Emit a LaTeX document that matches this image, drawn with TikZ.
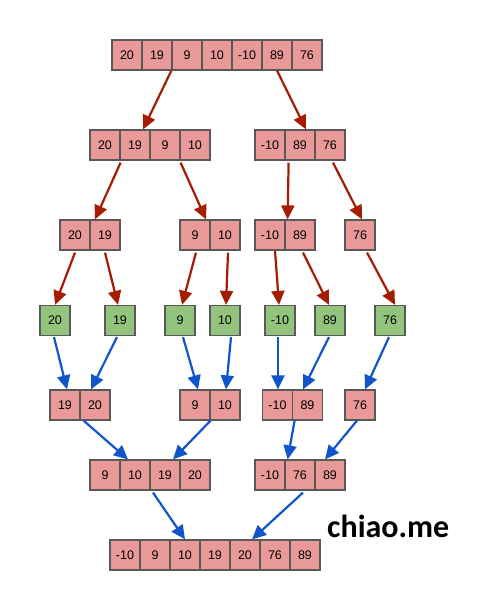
\documentclass[tikz,border=0pt]{standalone}
\usepackage{fontspec}
\setmainfont{Liberation Sans}
\newfontfamily\brandfont{Carlito}
\usetikzlibrary{arrows.meta,calc}
\definecolor{cellpink}{HTML}{EA9999}
\definecolor{cellgreen}{HTML}{93C47D}
\definecolor{cellline}{HTML}{595959}
\definecolor{splitred}{HTML}{A61C00}
\definecolor{mergeblue}{HTML}{1155CC}
\tikzset{
  cell/.style={draw=cellline, line width=1.2pt, fill=cellpink, minimum width=30pt, minimum height=30pt, inner sep=0pt, font=\fontsize{12.5}{14}\selectfont},
  leaf/.style={cell, fill=cellgreen},
  splitarrow/.style={draw=splitred, line width=2.2pt, -{Triangle[length=14pt,width=13pt]}},
  mergearrow/.style={draw=mergeblue, line width=2.2pt, -{Triangle[length=14pt,width=13pt]}},
}
\begin{document}
\begin{tikzpicture}[x=1pt,y=-1pt]
\useasboundingbox (0,0) rectangle (480,590);
% row 1
\foreach \n/\x/\v in {a/127/20,b/157/19,c/187/9,d/217/10,e/247/-10,f/277/89,g/307/76}
  \node[cell] (r1\n) at (\x,55) {\v};
% row 2
\foreach \n/\x/\v in {a/105/20,b/135/19,c/165/9,d/195/10,e/270/-10,f/300/89,g/330/76}
  \node[cell] (r2\n) at (\x,145) {\v};
% row 3
\foreach \n/\x/\v in {a/75/20,b/105/19,c/195/9,d/225/10,e/270/-10,f/300/89,g/360/76}
  \node[cell] (r3\n) at (\x,235) {\v};
% row 4 (leaves)
\foreach \n/\x/\v in {a/55/20,b/120/19,c/180/9,d/225/10,e/280/-10,f/330/89,g/390/76}
  \node[leaf] (r4\n) at (\x,320.5) {\v};
% row 5
\foreach \n/\x/\v in {a/65/19,b/95/20,c/195/9,d/225/10,e/277.5/-10,f/307.5/89,g/360/76}
  \node[cell] (r5\n) at (\x,405) {\v};
% row 6
\foreach \n/\x/\v in {a/105/9,b/135/10,c/165/19,d/195/20,e/270/-10,f/300/76,g/330/89}
  \node[cell] (r6\n) at (\x,475) {\v};
% row 7
\foreach \n/\x/\v in {a/125/-10,b/155/9,c/185/10,d/215/19,e/245/20,f/275/76,g/305/89}
  \node[cell] (r7\n) at (\x,555) {\v};
% brand
\node[anchor=base west, inner sep=0pt, font=\brandfont\bfseries\fontsize{32}{36}\selectfont] (brand) at (327,537) {chiao.me};
% split arrows
\draw[splitarrow] (r1c.south west) -- ($(r2b.north)+(8,0)$);
\draw[splitarrow] (r1f.south) -- ($(r2f.north)+(6,0)$);
\draw[splitarrow] ($(r2a.south east)+(0,2)$) -- ($(r3b.north)+(-10,0)$);
\draw[splitarrow] ($(r2c.south east)+(0,2)$) -- ($(r3c.north)+(11,0)$);
\draw[splitarrow] ($(r2e.south east)+(3,2)$) -- ($(r3e.north east)+(2,0)$);
\draw[splitarrow] ($(r2g.south)+(3,2)$) -- ($(r3g.north)+(2,0)$);
\draw[splitarrow] ($(r3a.south)+(0,2)$) -- (r4a.north);
\draw[splitarrow] ($(r3b.south)+(0,2)$) -- ($(r4b.north)+(-2,0)$);
\draw[splitarrow] ($(r3c.south)+(1,2)$) -- ($(r4c.north)+(2,0)$);
\draw[splitarrow] ($(r3d.south)+(3,2)$) -- ($(r4d.north)+(1,0)$);
\draw[splitarrow] ($(r3e.south)+(5,0)$) -- ($(r4e.north)+(-1,0)$);
\draw[splitarrow] ($(r3f.south)+(3,2)$) -- ($(r4f.north)+(-1,0)$);
\draw[splitarrow] ($(r3g.south)+(7,2)$) -- ($(r4g.north)+(5,0)$);
% merge arrows
\draw[mergearrow] ($(r4a.south)+(-1,1)$) -- ($(r5a.north)+(2,0)$);
\draw[mergearrow] ($(r4b.south)+(-3,1)$) -- ($(r5b.north)+(-4,0)$);
\draw[mergearrow] ($(r4c.south)+(3,1)$) -- ($(r5c.north)+(3,0)$);
\draw[mergearrow] ($(r4d.south)+(6,1)$) -- ($(r5d.north)+(1,0)$);
\draw[mergearrow] ($(r4e.south)+(-2,1)$) -- ($(r5e.north)+(0.5,0)$);
\draw[mergearrow] ($(r4f.south)+(-1,1)$) -- ($(r5f.north)+(-4.5,0)$);
\draw[mergearrow] ($(r4g.south)+(-1,1)$) -- ($(r5g.north)+(5,0)$);
\draw[mergearrow] ($(r5a.south east)+(3,0)$) -- ($(r6b.north)+(-7,0)$);
\draw[mergearrow] (r5c.south east) -- ($(r6c.north)+(8,0)$);
\draw[mergearrow] ($(r5e.south east)+(1.5,0)$) -- ($(r6e.north east)+(2,0)$);
\draw[mergearrow] ($(r5g.south)+(-3,0)$) -- ($(r6g.north)+(-5,0)$);
\draw[mergearrow] ($(r6c.south)+(-12,2)$) -- (r7c.north);
\draw[mergearrow] ($(r6f.south)+(3,2)$) -- ($(r7e.north)+(7,0)$);
\end{tikzpicture}
\end{document}
